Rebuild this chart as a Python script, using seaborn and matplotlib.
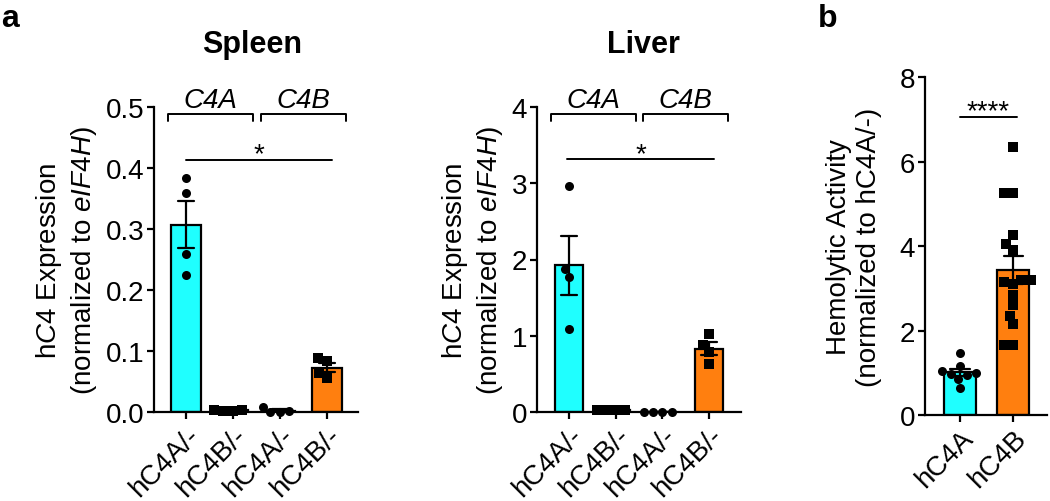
import numpy as np
import pandas as pd
import matplotlib
matplotlib.use("Agg")
import matplotlib.pyplot as plt
import seaborn as sns

sns.set_style("ticks")
plt.rcParams['font.family'] = ['Liberation Sans', 'DejaVu Sans']
plt.rcParams['mathtext.fontset'] = 'custom'
plt.rcParams['mathtext.rm'] = 'Liberation Sans'
plt.rcParams['mathtext.it'] = 'Liberation Sans:italic'
for key in ['text.color', 'axes.labelcolor', 'xtick.color', 'ytick.color', 'axes.edgecolor']:
    plt.rcParams[key] = 'black'

# panel a: gene measured | mouse strain
groups = ["C4A|hC4A", "C4A|hC4B", "C4B|hC4A", "C4B|hC4B"]
group_labels = ["hC4A/-", "hC4B/-", "hC4A/-", "hC4B/-"]
group_strain = ["hC4A", "hC4B", "hC4A", "hC4B"]

spleen_c4a_hc4a = [0.384, 0.359, 0.259, 0.225]
spleen_c4a_hc4b = [0.002, 0.002, 0.003, 0.003]
spleen_c4b_hc4a = [0.008, 0.001, 0.0, 0.0]
spleen_c4b_hc4b = [0.088, 0.084, 0.064, 0.055]

liver_c4a_hc4a = [2.96, 1.88, 1.77, 1.09]
liver_c4a_hc4b = [0.02, 0.02, 0.03, 0.02]
liver_c4b_hc4a = [0.0, 0.0, 0.0, 0.0]
liver_c4b_hc4b = [1.02, 0.88, 0.79, 0.63]

# panel b
hemo_groups = ["hC4A", "hC4B"]
hemo_hc4a = [1.47, 1.16, 1.05, 1.0, 0.98, 0.95, 0.85, 0.64]
hemo_hc4b = [6.35, 5.25, 5.25, 4.25, 4.05, 3.9, 3.2, 3.2, 3.15, 3.1,
             2.85, 2.6, 2.35, 2.15, 1.65, 1.65]

cyan = "#1FFFFF"
orange = "#FF7F0F"
strain_colors = {"hC4A": cyan, "hC4B": orange}
strain_markers = {"hC4A": "o", "hC4B": "s"}

FS = 20


def make_df(order, series):
    rows = []
    for g, vals in zip(order, series):
        for v in vals:
            rows.append({"group": g, "value": v})
    return pd.DataFrame(rows)


def draw_bars(ax, df, order, strains):
    pal = {g: strain_colors[s] for g, s in zip(order, strains)}
    sns.barplot(data=df, x="group", y="value", order=order, hue="group",
                hue_order=order, palette=pal, errorbar="se", capsize=0.36,
                width=0.62, edgecolor="black", linewidth=1.6, saturation=1,
                err_kws={"color": "black", "linewidth": 1.6}, legend=False, ax=ax)
    for g, s in zip(order, strains):
        sub = df[df["group"] == g]
        sns.swarmplot(data=sub, x="group", y="value", order=order, color="black",
                      marker=strain_markers[s], size=6.5, linewidth=0, ax=ax)
    for c in ax.collections:
        c.set_clip_on(False)
        c.set_zorder(4)


def style_axes(ax, labels, ylim, yticks, xlim):
    sns.despine(ax=ax)
    ax.set_xlim(*xlim)
    ax.set_ylim(*ylim)
    ax.set_yticks(yticks)
    ax.spines["left"].set_bounds(ylim[0], ylim[1])
    for sp in ["left", "bottom"]:
        ax.spines[sp].set_linewidth(1.6)
    ax.tick_params(axis="both", width=1.6, length=5, labelsize=FS, pad=2)
    ax.set_xticks(range(len(labels)))
    ax.set_xticklabels(labels, rotation=45, ha="right", va="top",
                       rotation_mode="anchor")
    ax.set_xlabel("")


def bracket(ax, x0, x1, y, drop):
    ax.plot([x0, x0, x1, x1], [y - drop, y, y, y - drop], color="black",
            lw=1.4, clip_on=False)


W, H = 1050, 502
fig = plt.figure(figsize=(10.5, 5.02), dpi=100)


def px_axes(left, right, top, bottom):
    return fig.add_axes([left / W, 1 - bottom / H, (right - left) / W, (bottom - top) / H])


ylab_a = "h$\\it{C4}$ Expression\n(normalized to $\\it{eIF4H}$)"

# Spleen
ax1 = px_axes(154, 358, 108, 413)
df_s = make_df(groups, [spleen_c4a_hc4a, spleen_c4a_hc4b, spleen_c4b_hc4a, spleen_c4b_hc4b])
draw_bars(ax1, df_s, groups, group_strain)
style_axes(ax1, group_labels, (0, 0.5), [0, 0.1, 0.2, 0.3, 0.4, 0.5], (-0.68, 3.66))
ax1.set_yticklabels(["0.0", "0.1", "0.2", "0.3", "0.4", "0.5"])
ax1.set_ylabel(ylab_a, fontsize=FS, labelpad=5)
bracket(ax1, -0.38, 1.43, 0.4885, 0.012)
bracket(ax1, 1.6, 3.4, 0.4885, 0.012)
ax1.text(0.52, 0.5, "C4A", style="italic", fontsize=FS, ha="center", va="baseline")
ax1.text(2.5, 0.5, "C4B", style="italic", fontsize=FS, ha="center", va="baseline")
ax1.plot([0, 3.1], [0.413, 0.413], color="black", lw=1.4, clip_on=False)
ax1.text(1.55, 0.402, "*", fontsize=FS, ha="center", va="bottom")

# Liver
ax2 = px_axes(537, 741, 108, 413)
df_l = make_df(groups, [liver_c4a_hc4a, liver_c4a_hc4b, liver_c4b_hc4a, liver_c4b_hc4b])
draw_bars(ax2, df_l, groups, group_strain)
style_axes(ax2, group_labels, (0, 4), [0, 1, 2, 3, 4], (-0.685, 3.685))
ax2.set_ylabel(ylab_a, fontsize=FS, labelpad=5)
bracket(ax2, -0.39, 1.43, 3.91, 0.1)
bracket(ax2, 1.58, 3.4, 3.91, 0.1)
ax2.text(0.52, 4.0, "C4A", style="italic", fontsize=FS, ha="center", va="baseline")
ax2.text(2.5, 4.0, "C4B", style="italic", fontsize=FS, ha="center", va="baseline")
ax2.plot([-0.04, 3.1], [3.32, 3.32], color="black", lw=1.4, clip_on=False)
ax2.text(1.53, 3.21, "*", fontsize=FS, ha="center", va="bottom")

# Hemolytic activity
ax3 = px_axes(925, 1047, 78, 416)
df_h = make_df(hemo_groups, [hemo_hc4a, hemo_hc4b])
draw_bars(ax3, df_h, hemo_groups, hemo_groups)
style_axes(ax3, hemo_groups, (0, 8), [0, 2, 4, 6, 8], (-0.66, 1.64))
ax3.set_ylabel("Hemolytic Activity\n(normalized to hC4A/-)", fontsize=FS, labelpad=13)
ax3.plot([0, 1.07], [7.05, 7.05], color="black", lw=1.4, clip_on=False)
ax3.text(0.535, 6.89, "****", fontsize=FS, ha="center", va="bottom")

fig.text(252 / W, 1 - 45 / H, "Spleen", fontsize=22, fontweight="bold", ha="center", va="center")
fig.text(643 / W, 1 - 45 / H, "Liver", fontsize=22, fontweight="bold", ha="center", va="center")
fig.text(1 / W, 1 - 27 / H, "a", fontsize=23, fontweight="bold", ha="left", va="baseline")
fig.text(818 / W, 1 - 27 / H, "b", fontsize=23, fontweight="bold", ha="left", va="baseline")

fig.savefig("out.png", dpi=100)
